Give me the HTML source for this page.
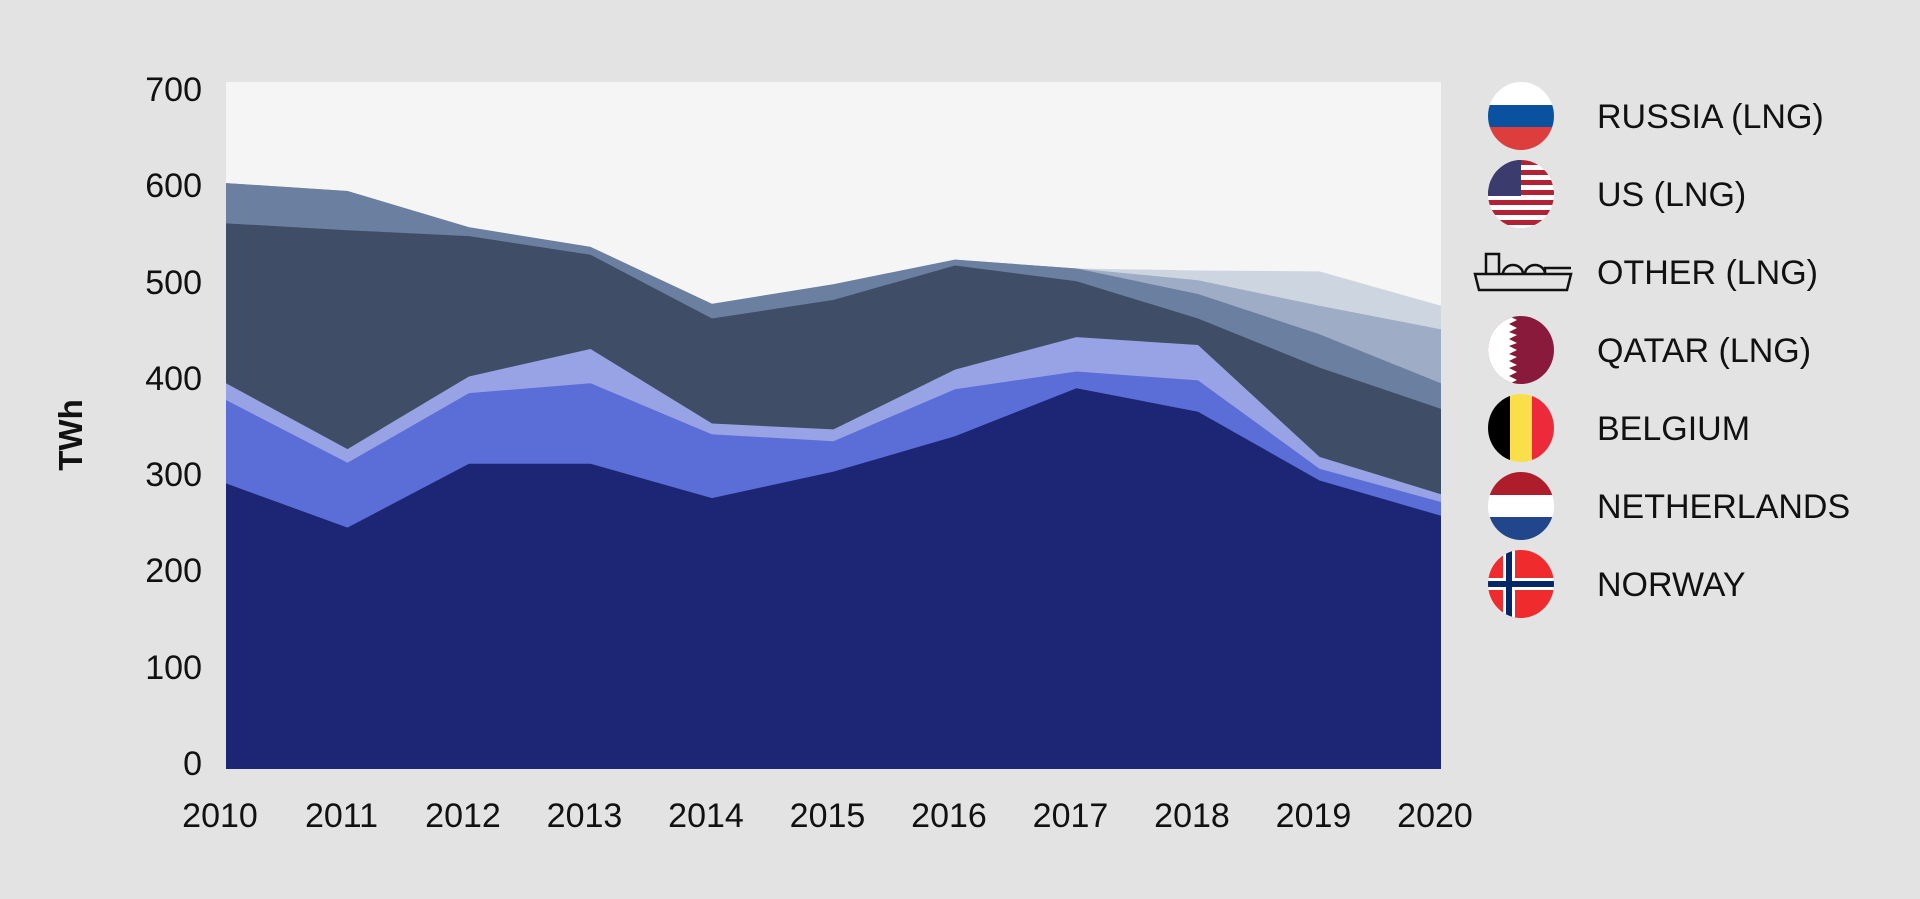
<!DOCTYPE html>
<html><head><meta charset="utf-8"><style>
html,body{margin:0;padding:0;background:#e3e3e3;}
body{width:1920px;height:894px;overflow:hidden;font-family:"Liberation Sans",Arial,sans-serif;}
</style></head><body>
<svg width="1920" height="894" viewBox="0 0 1920 894" xmlns="http://www.w3.org/2000/svg" font-family="Liberation Sans, Arial, sans-serif">
<defs>
<clipPath id="c"><ellipse cx="0" cy="0" rx="33" ry="34"/></clipPath>
</defs>
<rect x="226" y="82" width="1215" height="687" fill="#f5f5f5"/>
<g id="areas"></g>
<g font-size="34" fill="#111" text-anchor="end">
<text x="202" y="101">700</text><text x="202" y="197">600</text><text x="202" y="294">500</text><text x="202" y="390">400</text><text x="202" y="486">300</text><text x="202" y="582">200</text><text x="202" y="679">100</text><text x="202" y="775">0</text>
</g>
<text transform="translate(82,435) rotate(-90)" font-size="33" font-weight="bold" text-anchor="middle" fill="#111">TWh</text>
<g font-size="34" fill="#111" text-anchor="middle" id="xl"></g>
<g font-size="34" fill="#111">
<text x="1597" y="128">RUSSIA (LNG)</text>
<text x="1597" y="206">US (LNG)</text>
<text x="1597" y="284">OTHER (LNG)</text>
<text x="1597" y="362">QATAR (LNG)</text>
<text x="1597" y="440">BELGIUM</text>
<text x="1597" y="518">NETHERLANDS</text>
<text x="1597" y="596">NORWAY</text>
</g>
<g transform="translate(1521,116)" clip-path="url(#c)"><rect x="-34" y="-34" width="68" height="23" fill="#fff"/><rect x="-34" y="-11" width="68" height="22" fill="#0a52a0"/><rect x="-34" y="11" width="68" height="23" fill="#de3d3e"/></g>
<g transform="translate(1521,194)" clip-path="url(#c)"><rect x="-34" y="-34" width="68" height="68" fill="#fff"/>
<g fill="#b22234"><rect x="-34" y="-34" width="68" height="5"/><rect x="-34" y="-24" width="68" height="5"/><rect x="-34" y="-14" width="68" height="5"/><rect x="-34" y="-4" width="68" height="5"/><rect x="-34" y="6" width="68" height="5"/><rect x="-34" y="16" width="68" height="5"/><rect x="-34" y="26" width="68" height="5"/></g>
<rect x="-34" y="-34" width="34" height="36" fill="#3c3b6e"/></g>
<g transform="translate(1475,252)" fill="none" stroke="#111" stroke-width="2.5">
<path d="M0,22 L96,22 L92,38 L4,38 Z"/><path d="M11,22 L11,2 L24,2 L24,22"/><path d="M28,22 A10,9 0 0 1 48,22 M50,22 A10,9 0 0 1 70,22"/><path d="M70,22 L70,16 L96,16"/></g>
<g transform="translate(1521,350)" clip-path="url(#c)"><rect x="-34" y="-34" width="68" height="68" fill="#8a1a3c"/><path d="M-34,-34 L-12,-34 L-4,-30 L-12,-26 L-4,-22 L-12,-18 L-4,-15 L-12,-11 L-4,-7 L-12,-4 L-4,0 L-12,4 L-4,7 L-12,11 L-4,15 L-12,18 L-4,22 L-12,26 L-4,30 L-12,34 L-34,34Z" fill="#fff"/></g>
<g transform="translate(1521,428)" clip-path="url(#c)"><rect x="-34" y="-34" width="23" height="68" fill="#000"/><rect x="-11" y="-34" width="22" height="68" fill="#fadf4a"/><rect x="11" y="-34" width="23" height="68" fill="#ec2a3a"/></g>
<g transform="translate(1521,506)" clip-path="url(#c)"><rect x="-34" y="-34" width="68" height="23" fill="#ad1d2b"/><rect x="-34" y="-11" width="68" height="22" fill="#fff"/><rect x="-34" y="11" width="68" height="23" fill="#21468b"/></g>
<g transform="translate(1521,584)" clip-path="url(#c)"><rect x="-34" y="-34" width="68" height="68" fill="#ef2b2d"/><rect x="-34" y="-6" width="68" height="12" fill="#fff"/><rect x="-18" y="-34" width="12" height="68" fill="#fff"/><rect x="-34" y="-3" width="68" height="6" fill="#002868"/><rect x="-15" y="-34" width="6" height="68" fill="#002868"/></g>
</svg>
<script>
var X=function(i){return 226+i*121.5},Y=function(v){return 769-v*0.9814};
var layers=[
["#cdd6e0",[597,589,552,532,474,494,519,510,508,507,472]],
["#9eadc5",[597,589,552,532,474,494,519,510,498,472,448]],
["#6b7fa0",[597,589,552,532,474,494,519,510,484,443,393]],
["#3f4e66",[556,549,543,524,459,478,513,497,459,409,367]],
["#98a3e6",[393,326,400,428,352,346,407,440,432,318,280]],
["#5b6dd6",[376,312,383,393,341,334,387,405,396,306,272]],
["#1c2674",[291,246,311,311,276,303,339,388,364,294,258]]];
var g=document.getElementById('areas'),s='';
layers.forEach(function(l){var p='M'+X(0)+','+Y(0);l[1].forEach(function(v,i){p+=' L'+X(i)+','+Y(v)});p+=' L'+X(10)+','+Y(0)+'Z';s+='<path d="'+p+'" fill="'+l[0]+'"/>';});
g.innerHTML=s;
var xl='';for(var i=0;i<=10;i++)xl+='<text x="'+(X(i)-6)+'" y="827">'+(2010+i)+'</text>';
document.getElementById('xl').innerHTML=xl;
</script>
</body></html>
